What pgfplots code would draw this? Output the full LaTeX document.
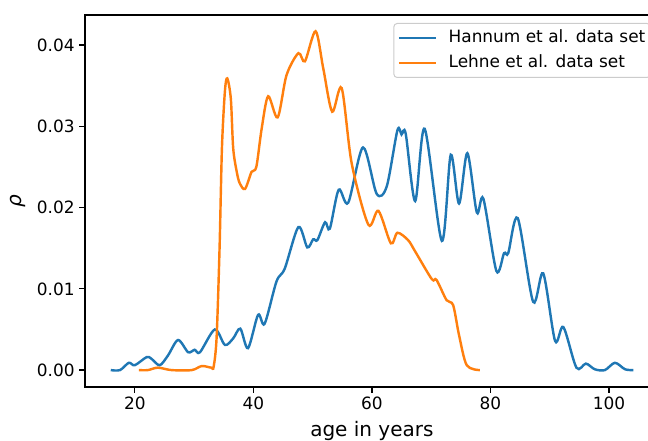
\documentclass[border=0pt]{standalone}
\usepackage{pgfplots}
\pgfplotsset{compat=1.18}
\usepackage{fontspec}
\setmainfont{DejaVu Sans}
\definecolor{mplblue}{HTML}{1F77B4}
\definecolor{mplorange}{HTML}{FF7F0E}
\begin{document}
\begin{tikzpicture}
\begin{axis}[
  width=430.35pt, height=279pt, scale only axis,
  xmin=11.6, xmax=108.4, ymin=-0.00208, ymax=0.0437,
  xtick={20,40,60,80,100}, ytick={0,0.01,0.02,0.03,0.04},
  scaled y ticks=false,
  yticklabel style={/pgf/number format/.cd, fixed, fixed zerofill, precision=2},
  /pgf/number format/assume math mode=true,
  tick align=outside, major tick length=4.25pt,
  tick style={black, line width=0.97pt},
  axis line style={line width=0.97pt},
  xtick pos=bottom, ytick pos=left,
  ticklabel style={font=\fontsize{12.7}{15}\selectfont},
  label style={font=\fontsize{15}{18}\selectfont},
  xlabel={age in years}, ylabel={{\itshape ρ}},
  xlabel style={at={(axis description cs:0.5,-0.1318)}, anchor=base},
  ylabel style={at={(axis description cs:-0.1168,0.5)}, anchor=center},
  legend style={at={(axis description cs:1,1)}, anchor=north east,
    xshift=-6pt, yshift=-6pt, draw=black!20, line width=0.75pt,
    rounded corners=2.5pt, fill=white, fill opacity=0.8, text opacity=1,
    font=\fontsize{12.7}{15}\selectfont, inner xsep=2.75pt, inner ysep=3.5pt,
    row sep=4.5pt, column sep=7.5pt,
    nodes={inner sep=1pt, text height=9.5pt, text depth=3pt},
    cells={anchor=west}},
  legend image code/.code={\draw[#1, line width=1.82pt, sharp corners] (0pt,0pt) -- (28pt,0pt);},
]
\addplot[mplblue, line width=1.82pt, smooth, tension=0.5] coordinates {
(15.95,0) (17.5,0.0000) (19.0,0.0009) (20.0,0.0006) (22.0,0.0016) (22.8,0.0014)
(24.2,0.0006) (25.6,0.0018) (27.3,0.0037) (29.0,0.0022) (30.1,0.0025) (31.0,0.0022)
(33.5,0.0050) (35.2,0.0031) (36.6,0.0039) (37.8,0.0051) (39.1,0.0027) (40.8,0.0068)
(41.9,0.0057) (43.9,0.0109) (45.3,0.0125) (47.6,0.0176) (49.1,0.0151) (50.1,0.0161)
(50.8,0.0160) (52.1,0.0182) (52.9,0.0174) (54.4,0.0222) (56.0,0.0206) (58.5,0.0274)
(60.8,0.0217) (62.5,0.0226) (64.3,0.0295) (65.0,0.0290) (65.7,0.0291) (67.3,0.0208)
(68.9,0.0297) (71.8,0.0159) (73.3,0.0265) (74.7,0.0205) (76.1,0.0267) (77.7,0.0194)
(78.8,0.0211) (81.0,0.0122) (82.3,0.0144) (83.0,0.0144) (84.6,0.0187) (87.2,0.0084)
(88.9,0.0119) (90.9,0.0036) (92.3,0.0053) (94.5,0.0003) (96.1,0.0008) (97.6,0.0001)
(99.3,0.0000) (101.0,0.0009) (102.7,0.0001) (104.1,0)
};
\addlegendentry{Hannum et al. data set}
\addplot[mplorange, line width=1.82pt, smooth, tension=0.5] coordinates {
(20.7,0) (22.2,0) (23.9,0.0003) (26.2,0) (29.6,0) (31.3,0.0005) (32.9,0.0003)
(33.3,0.0004) (33.8,0.0040) (34.3,0.0150) (34.7,0.0273) (35.2,0.0343) (35.6,0.0359)
(36.2,0.0334) (36.6,0.0273) (37.2,0.0244) (37.7,0.0230) (38.6,0.0223) (39.7,0.0244)
(40.5,0.0250) (41.4,0.0297) (42.5,0.0337) (44.1,0.0311) (45.6,0.0363) (47.6,0.0390)
(48.7,0.0380) (50.5,0.0417) (51.8,0.0371) (53.3,0.0318) (54.9,0.0347) (56.6,0.0254)
(59.4,0.0179) (61.1,0.0196) (63.2,0.0156) (64.3,0.0169) (66.1,0.0160) (67.3,0.0146)
(70.1,0.0112) (70.9,0.0111) (72.6,0.0086) (73.7,0.0080) (74.7,0.0043) (76.0,0.0006)
(78.2,0)
};
\addlegendentry{Lehne et al. data set}
\end{axis}
\pgfresetboundingbox
\path[use as bounding box] (-63.75pt,-40.5pt) rectangle (422.25pt,290.25pt);
\end{tikzpicture}
\end{document}
